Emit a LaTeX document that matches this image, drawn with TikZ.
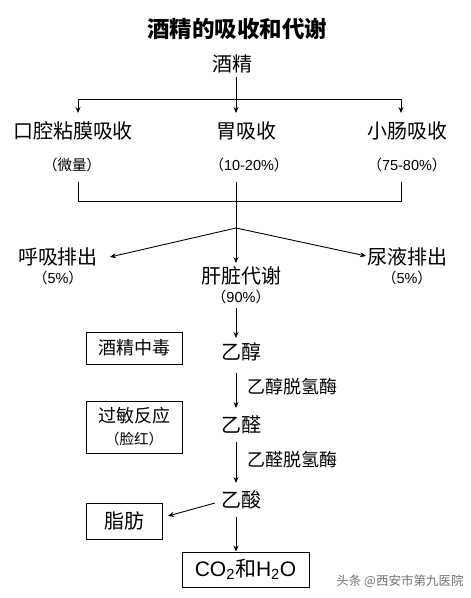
\documentclass[tikz,border=0pt]{standalone}
\usepackage{fontspec}
\setmainfont{Noto Sans CJK SC}
\newfontfamily\latfont{Liberation Sans}
\usetikzlibrary{arrows.meta}
\begin{document}
\begin{tikzpicture}[x=1pt,y=-1pt,
  txt/.style={inner sep=0pt,font=\fontsize{20}{24}\selectfont},
  pct/.style={inner sep=0pt,font=\fontsize{14.5}{17}\selectfont},
  lab/.style={inner sep=0pt,anchor=west,font=\fontsize{18}{22}\selectfont},
  boxed/.style={draw,line width=0.9pt,inner sep=0pt,align=center},
  ln/.style={line width=0.9pt},
  arr/.style={line width=0.9pt,-{Stealth[length=6pt,width=5pt]}}]
\useasboundingbox (0,0) rectangle (471,598);
% title
\node[inner sep=0pt,font=\fontsize{22.5}{26}\selectfont\bfseries] (title) at (237,29) {酒精的吸收和代谢};
\node[txt] (jj) at (232,64) {酒精};
% absorption
\node[txt] (kq) at (73,131) {口腔粘膜吸收};
\node[txt] (wei) at (246,131) {胃吸收};
\node[txt] (xc) at (407,131) {小肠吸收};
\node[pct] (p1) at (72,165) {（微量）};
\node[pct] (p2) at (249,165) {（{\latfont 10-20\%}）};
\node[pct] (p3) at (407,165) {（{\latfont 75-80\%}）};
\coordinate (a0) at (236,77);
\coordinate (a1) at (236,99);
\coordinate (aL) at (78,99);
\coordinate (aR) at (401,99);
\coordinate (tL) at (78,113);
\coordinate (tM) at (236,113);
\coordinate (tR) at (401,113);
\draw[ln] (a0) -- (a1);
\draw[ln] (aL) -- (aR);
\draw[arr] (aL) -- (tL);
\draw[arr] (a1) -- (tM);
\draw[arr] (aR) -- (tR);
% collection
\coordinate (bL) at (78,182);
\coordinate (bM) at (236,182);
\coordinate (bR) at (401,182);
\coordinate (cL) at (78,201);
\coordinate (cR) at (401,201);
\coordinate (br) at (236,228);
\draw[ln] (bL) -- (cL) -- (cR) -- (bR);
\draw[ln] (bM) -- (br);
% excretion / metabolism
\node[txt] (hx) at (58,257) {呼吸排出};
\node[pct] (hx5) at (58,278) {（{\latfont 5\%}）};
\node[txt] (ny) at (407,257) {尿液排出};
\node[pct] (ny5) at (407,278) {（{\latfont 5\%}）};
\node[txt] (gz) at (241,276) {肝脏代谢};
\node[pct] (gz90) at (241,297) {（{\latfont 90\%}）};
\coordinate (eL) at (110,257);
\coordinate (eR) at (366,256);
\coordinate (eM) at (236,263);
\draw[arr] (br) -- (eL);
\draw[arr] (br) -- (eR);
\draw[arr] (br) -- (eM);
% chain
\node[txt] (yc) at (241,352) {乙醇};
\node[txt] (yq) at (241,425) {乙醛};
\node[txt] (ys) at (241,500) {乙酸};
\coordinate (s1) at (236,308);
\coordinate (e1) at (236,338);
\draw[arr] (s1) -- (e1);
\coordinate (s2) at (236,373);
\coordinate (e2) at (236,408);
\draw[arr] (s2) -- (e2);
\node[lab] (m1) at (247,387) {乙醇脱氢酶};
\coordinate (s3) at (236,442);
\coordinate (e3) at (236,483);
\draw[arr] (s3) -- (e3);
\node[lab] (m2) at (247,460) {乙醛脱氢酶};
% side boxes
\node[boxed,minimum width=96pt,minimum height=32pt,font=\fontsize{18}{22}\selectfont] (b1) at (134,348) {酒精中毒};
\node[boxed,minimum width=96pt,minimum height=52pt,font=\fontsize{18}{23}\selectfont] (b2) at (134,427) {过敏反应\\[-1pt]{\fontsize{14.5}{17}\selectfont （脸红）}};
\node[boxed,minimum width=76pt,minimum height=36pt,font=\fontsize{20}{24}\selectfont] (b3) at (124,521) {脂肪};
\node[boxed,minimum width=127pt,minimum height=35pt,font=\fontsize{21}{25}\selectfont] (b4) at (245.5,569.5) {\latfont CO\textsubscript{2}\rmfamily 和\latfont H\textsubscript{2}O};
\coordinate (s4) at (215,503);
\coordinate (e4) at (168,516);
\draw[arr] (s4) -- (e4);
\coordinate (s5) at (236,517);
\draw[arr] (s5) -- (s5 |- b4.north);
% watermark
\node[inner sep=0pt,text=black!55,font=\fontsize{12.5}{15}\selectfont] (wm) at (400,581) {头条 @西安市第九医院};
\end{tikzpicture}
\end{document}
